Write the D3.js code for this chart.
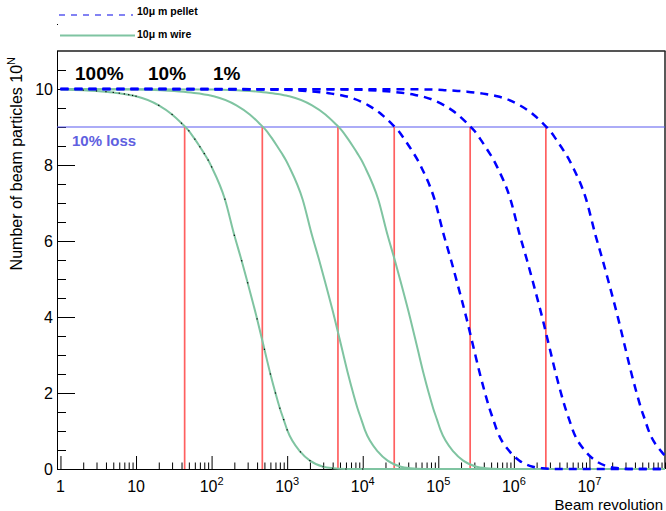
<!DOCTYPE html>
<html><head><meta charset="utf-8">
<script src="https://cdn.jsdelivr.net/npm/d3@7"></script>
<style>body{margin:0;background:#fff}svg{display:block;font-family:"Liberation Sans",Arial,Helvetica,sans-serif}</style>
</head><body><svg id="c" width="666" height="511"></svg>
<script>
// ---- data ----
const wire1T = [1,2,3,4,5,6,7,8,9,10,20,30,40,50,60,70,80,90,100,150,200,250,300,400,500,600,700,800,900,1000,1500,2000,3000,4000,6000,10000,1e8];
const wire1N = [9.99,9.97,9.95,9.93,9.91,9.89,9.87,9.85,9.83,9.81,9.57,9.33,9.1,8.9,8.68,8.48,8.3,8.13,7.95,7.1,6.15,5.48,4.9,3.95,3.15,2.5,2.0,1.6,1.3,1.03,0.45,0.22,0.06,0.02,0,0,0];

const wire2T = [1,10.7,21.3,32,42.6,53.3,64,74.6,85.3,95.9,106.6,213,320,426,533,640,746,853,959,1066,1599,2132,2665,3198,4264,5330,6396,7462,8528,9594,10660,15990,21320,31980,42640,63960,106600,1e8];
const wire2N = [10,9.99,9.97,9.95,9.93,9.91,9.89,9.87,9.85,9.83,9.81,9.57,9.33,9.1,8.9,8.68,8.48,8.3,8.13,7.95,7.1,6.15,5.48,4.9,3.95,3.15,2.5,2.0,1.6,1.3,1.03,0.45,0.22,0.06,0.02,0,0,0];

const wire3T = [1,107,214,320,427,534,641,748,854,961,1068,2136,3204,4272,5340,6408,7476,8544,9612,10680,16020,21360,26700,32040,42720,53400,64080,74760,85440,96120,106800,160200,213600,320400,427200,640800,1068000,1e8];
const wire3N = [10,9.99,9.97,9.95,9.93,9.91,9.89,9.87,9.85,9.83,9.81,9.57,9.33,9.1,8.9,8.68,8.48,8.3,8.13,7.95,7.1,6.15,5.48,4.9,3.95,3.15,2.5,2.0,1.6,1.3,1.03,0.45,0.22,0.06,0.02,0,0,0];

const pellet1T = [1,593,1186,1779,2372,2965,3558,4151,4744,5337,5930,11860,17790,23720,29650,35580,41510,47440,53370,59300,88950,118600,148250,177900,237200,296500,355800,415100,474400,533700,593000,889500,1186000,1779000,2372000,3558000,5930000,1e8];
const pellet1N = [10,9.99,9.97,9.95,9.93,9.91,9.89,9.87,9.85,9.83,9.81,9.57,9.33,9.1,8.9,8.68,8.48,8.3,8.13,7.95,7.1,6.15,5.48,4.9,3.95,3.15,2.5,2.0,1.6,1.3,1.03,0.45,0.22,0.06,0.02,0,0,0];

const pellet2T = [1,6000,12000,18000,24000,30000,36000,42000,48000,54000,60000,120000,180000,240000,300000,360000,420000,480000,540000,600000,900000,1.2e6,1.5e6,1.8e6,2.4e6,3e6,3.6e6,4.2e6,4.8e6,5.4e6,6e6,9e6,1.2e7,1.8e7,2.4e7,3.6e7,6e7,1e8];
const pellet2N = [10,9.99,9.97,9.95,9.93,9.91,9.89,9.87,9.85,9.83,9.81,9.57,9.33,9.1,8.9,8.68,8.48,8.3,8.13,7.95,7.1,6.15,5.48,4.9,3.95,3.15,2.5,2.0,1.6,1.3,1.03,0.45,0.22,0.06,0.02,0,0,0];

const pellet3T = [1,60200,120400,180600,240800,301000,361200,421400,481600,541800,602000,1.204e6,1.806e6,2.408e6,3.01e6,3.612e6,4.214e6,4.816e6,5.418e6,6.02e6,9.03e6,1.204e7,1.505e7,1.806e7,2.408e7,3.01e7,3.612e7,4.214e7,4.816e7,5.418e7,6.02e7,9.03e7,1.204e8,1.806e8];
const pellet3N = [10,9.99,9.97,9.95,9.93,9.91,9.89,9.87,9.85,9.83,9.81,9.57,9.33,9.1,8.9,8.68,8.48,8.3,8.13,7.95,7.1,6.15,5.48,4.9,3.95,3.15,2.5,2.0,1.6,1.3,1.03,0.45,0.22,0.06];

const lossRevolutions = [44, 469, 4700, 26100, 264000, 2650000];
const lossLevel = 9;
const percentLabels = ["100%", "10%", "1%"];
const xMajorTicks = [1,10,100,1e3,1e4,1e5,1e6,1e7];
const xMajorExp = [null,null,2,3,4,5,6,7];
const xMajorBase = ["1","10","10","10","10","10","10","10"];
const yMajorTicks = [0,2,4,6,8,10];
const yMinorTicks = [0.5,1,1.5,2.5,3,3.5,4.5,5,5.5,6.5,7,7.5,8.5,9,9.5,10.5];
const legendLabels = ["10\u03bc m pellet", "10\u03bc m wire"];

// ---- drawing ----
const svg = d3.select("#c");
const L = 57, R = 665, T = 51, B = 469;
const x = d3.scaleLog().domain([0.9, 1e8]).range([L, R]);
const y = d3.scaleLinear().domain([0, 11]).range([B, T]);

svg.append("defs").append("clipPath").attr("id","clip")
  .append("rect").attr("x",L).attr("y",T).attr("width",R-L).attr("height",B-T+3);

// frame
svg.append("line").attr("x1",L).attr("x2",R+0.5).attr("y1",T).attr("y2",T).attr("stroke","#555").attr("stroke-width",2);
svg.append("line").attr("x1",R).attr("x2",R).attr("y1",T).attr("y2",B).attr("stroke","#222").attr("stroke-width",1.5);

// axes: x
const xMinor = x.ticks().filter(v => v >= 1 && v <= 1e8 && !xMajorTicks.includes(v));
svg.append("g").attr("transform",`translate(0,${B})`)
  .call(d3.axisBottom(x).tickValues(xMinor).tickSize(-6.5).tickSizeOuter(0).tickFormat(""))
  .call(g => g.select(".domain").remove())
  .selectAll("line").attr("stroke","#000");
svg.append("g").attr("transform",`translate(0,${B})`)
  .call(d3.axisBottom(x).tickValues(xMajorTicks).tickSize(-13).tickSizeOuter(0).tickFormat(""))
  .call(g => g.select(".domain").remove())
  .selectAll("line").attr("stroke","#000");
svg.append("line").attr("x1",L).attr("x2",R).attr("y1",B+0.5).attr("y2",B+0.5).attr("stroke","#000");

// y axis
svg.append("g").attr("transform",`translate(${L},0)`)
  .call(d3.axisLeft(y).tickValues(yMinorTicks).tickSize(-9).tickSizeOuter(0).tickFormat(""))
  .call(g => g.select(".domain").remove())
  .selectAll("line").attr("stroke","#000");
svg.append("g").attr("transform",`translate(${L},0)`)
  .call(d3.axisLeft(y).tickValues(yMajorTicks).tickSize(-18).tickSizeOuter(0).tickFormat(""))
  .call(g => g.select(".domain").remove())
  .selectAll("line").attr("stroke","#000");
svg.append("line").attr("x1",L+0.5).attr("x2",L+0.5).attr("y1",T).attr("y2",B+0.5).attr("stroke","#000");

// tick labels
svg.selectAll("text.yl").data(yMajorTicks).join("text").attr("class","yl")
  .attr("x",53).attr("y",d=>y(d)).attr("dy","0.36em").attr("text-anchor","end")
  .attr("font-size",16).text(d=>d);
const xl = svg.selectAll("text.xl").data(xMajorTicks).join("text").attr("class","xl")
  .attr("x",d=>x(d)).attr("y",492).attr("text-anchor","middle").attr("font-size",16);
xl.append("tspan").text((d,i)=>xMajorBase[i]);
xl.filter((d,i)=>xMajorExp[i]!==null).append("tspan").attr("dy",-7).attr("font-size",11)
  .text(d=>xMajorExp[xMajorTicks.indexOf(d)]);

// axis titles
svg.append("text").attr("x",663).attr("y",509.5).attr("text-anchor","end").attr("font-size",15).text("Beam revolution");
const yt = svg.append("text").attr("transform","translate(22,57) rotate(-90)").attr("text-anchor","end").attr("font-size",16);
yt.append("tspan").text("Number of beam particles 10");
yt.append("tspan").attr("dy",-7).attr("font-size",11).text("N");

// plot content
const plot = svg.append("g").attr("clip-path","url(#clip)");

// 10% loss line
plot.append("line").attr("x1",L).attr("x2",R).attr("y1",y(lossLevel)).attr("y2",y(lossLevel))
  .attr("stroke","#5a5af0").attr("stroke-width",1.2);
// red verticals
plot.selectAll("line.red").data(lossRevolutions).join("line").attr("class","red")
  .attr("x1",d=>x(d)).attr("x2",d=>x(d)).attr("y1",y(lossLevel)).attr("y2",B)
  .attr("stroke","#ff6060").attr("stroke-width",1.7);

const line = d3.line().x(d=>x(d[0])).y(d=>y(d[1])).curve(d3.curveMonotoneX);
const zip = (a,b) => a.map((v,i)=>[v,b[i]]);

const wires = [zip(wire1T,wire1N), zip(wire2T,wire2N), zip(wire3T,wire3N)];
const pellets = [zip(pellet1T,pellet1N), zip(pellet2T,pellet2N), zip(pellet3T,pellet3N)];

plot.selectAll("path.wire").data(wires).join("path").attr("class","wire")
  .attr("d",line).attr("fill","none").attr("stroke","#7fc4a1").attr("stroke-width",2);

// data-point dots of the first wire graph
plot.selectAll("rect.dot").data(zip(wire1T,wire1N).slice(0,-1)).join("rect").attr("class","dot")
  .attr("x",d=>x(d[0])-0.6).attr("y",d=>y(d[1])-0.6).attr("width",1.2).attr("height",1.2).attr("fill","#000");

plot.selectAll("path.pellet").data(pellets).join("path").attr("class","pellet")
  .attr("d",line).attr("fill","none").attr("stroke","#0000ff").attr("stroke-width",2.5)
  .attr("stroke-dasharray","8,6");

// loss text
svg.append("text").attr("x",72).attr("y",146).attr("font-size",15).attr("font-weight","bold")
  .attr("fill","#6060e0").text("10% loss");

// percent labels
const pctX = [75,148,213];
svg.selectAll("text.pct").data(percentLabels).join("text").attr("class","pct")
  .attr("x",(d,i)=>pctX[i]).attr("y",80).attr("font-size",19).attr("font-weight","bold").text(d=>d);

// legend
svg.append("line").attr("x1",59).attr("x2",133).attr("y1",15).attr("y2",15)
  .attr("stroke","#5a5af0").attr("stroke-width",1.5).attr("stroke-dasharray","6,6");
svg.append("line").attr("x1",60).attr("x2",135).attr("y1",35.5).attr("y2",35.5)
  .attr("stroke","#7fc4a1").attr("stroke-width",2);
svg.append("rect").attr("x",57).attr("y",24).attr("width",1).attr("height",1).attr("fill","#000");
svg.selectAll("text.leg").data(legendLabels).join("text").attr("class","leg")
  .attr("x",137).attr("y",(d,i)=>i===0?15:38).attr("font-size",10.5).attr("font-weight","bold").text(d=>d);
</script></body></html>
